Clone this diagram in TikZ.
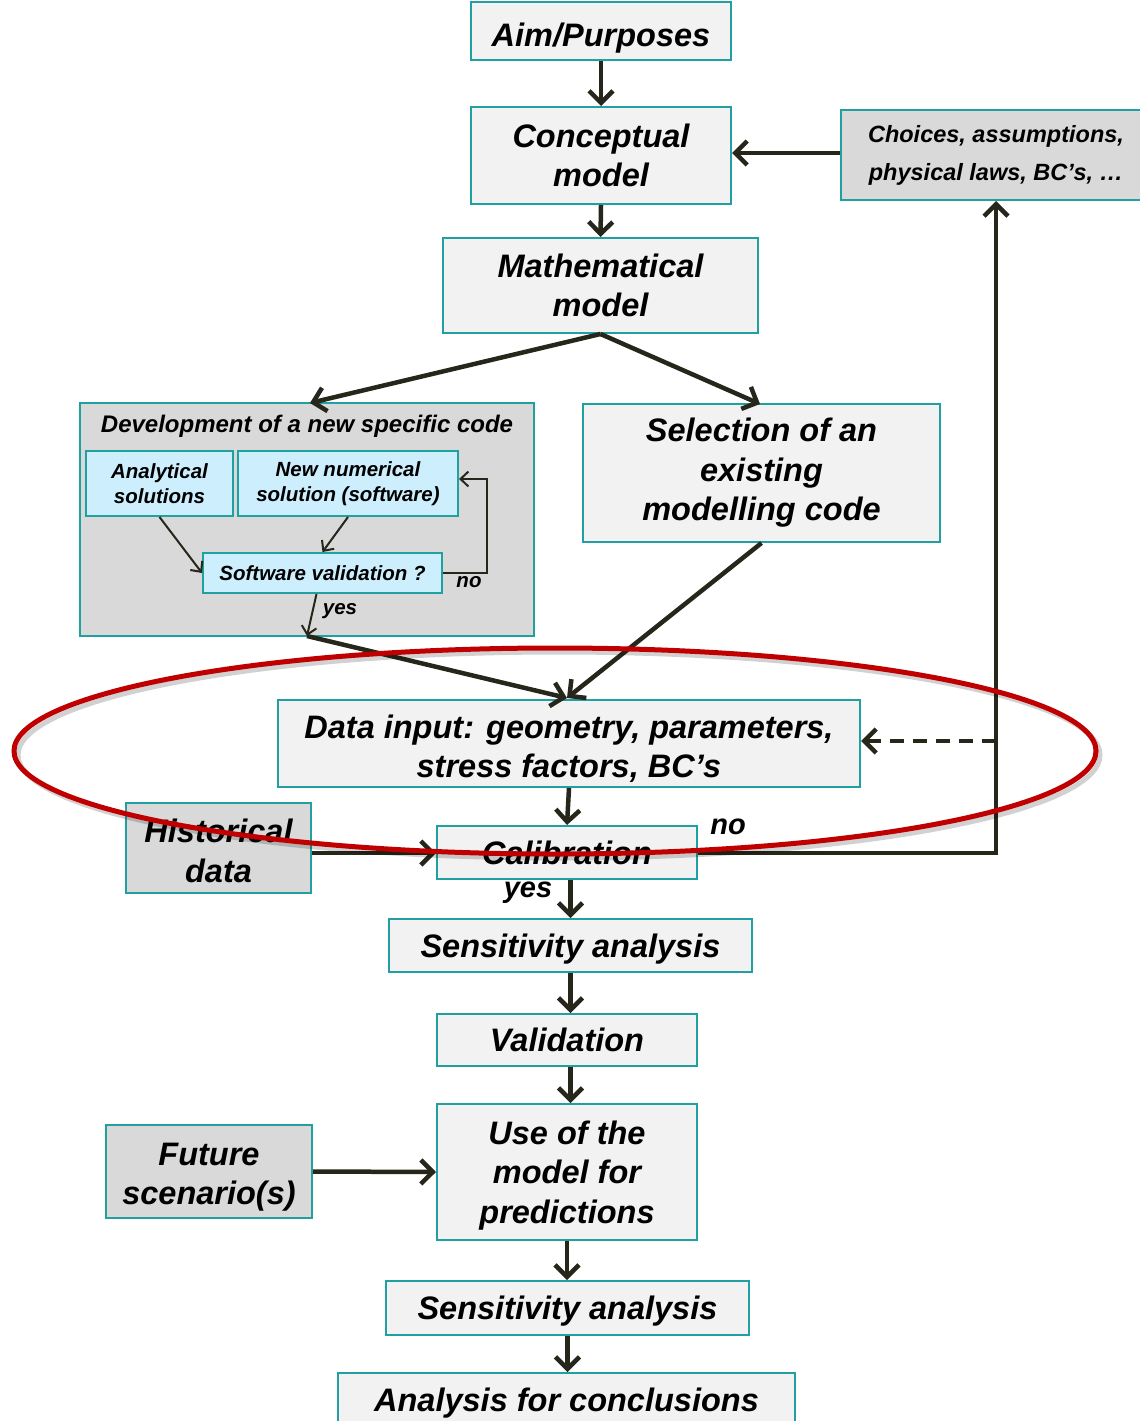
\documentclass[tikz,border=0pt]{standalone}
\usepackage{fontspec}
\setmainfont{Liberation Sans}
\usetikzlibrary{arrows.meta}
\definecolor{tealb}{RGB}{32,160,160}
\definecolor{boxfill}{RGB}{242,242,242}
\definecolor{grayfill}{RGB}{217,217,217}
\definecolor{cyanfill}{RGB}{204,238,253}
\definecolor{arrc}{RGB}{38,38,26}
\definecolor{redc}{RGB}{192,0,0}
\newcommand{\fbig}{\fontsize{32.5}{39.5}\selectfont\bfseries\itshape}
\newcommand{\fmed}{\fontsize{23.5}{38}\selectfont\bfseries\itshape}
\newcommand{\fdev}{\fontsize{24}{28}\selectfont\bfseries\itshape}
\newcommand{\fsml}{\fontsize{20.5}{25}\selectfont\bfseries\itshape}
\newcommand{\flab}{\fontsize{29}{34}\selectfont\bfseries\itshape}
\newcommand{\lowr}[1]{\rule{0pt}{#1}}
\begin{document}
\begin{tikzpicture}[x=1pt,y=-1pt,
  box/.style={draw=tealb,line width=2pt,fill=boxfill,align=center,inner sep=0pt,font=\fbig},
  gbox/.style={box,fill=grayfill},
  cbox/.style={box,fill=cyanfill,font=\fsml},
  one/.style={text height=31.4pt,text depth=8pt},
  arr/.style={draw=arrc,line width=4.5pt,-{Straight Barb[length=12pt,width=24pt]}},
  tarr/.style={draw=arrc,line width=2pt,-{Straight Barb[length=8pt,width=15pt]}},
  lab/.style={inner sep=0pt,font=\flab},
  slab/.style={inner sep=0pt,font=\fsml}]
\useasboundingbox (0,0) rectangle (1140,1421);

% main column
\node[box,text height=39.4pt,text depth=8pt,minimum width=260pt,minimum height=58pt] (aim) at (601,31) {Aim/Purposes};
\node[box,minimum width=260pt,minimum height=97pt] (conc) at (601,155.5) {Conceptual\\model};
\node[box,minimum width=315pt,minimum height=95pt] (math) at (600.5,285.5) {Mathematical\\model};
\node[gbox,font=\fmed,minimum width=310pt,minimum height=90pt] (choices) at (996,155) {Choices, assumptions,\\physical laws, BC’s, \ldots};

% development block
\node[gbox,minimum width=454pt,minimum height=233pt] (dev) at (307,519.5) {};
\node[inner sep=0pt,font=\fdev] (devt) at (307,426) {Development of a new specific code};
\node[cbox,minimum width=147pt,minimum height=65pt] (ana) at (159.5,483.5) {Analytical\\solutions};
\node[cbox,minimum width=220pt,minimum height=65pt] (num) at (348,483.5) {New numerical\\solution (software)};
\node[cbox,text height=19.8pt,text depth=5pt,minimum width=239pt,minimum height=40pt] (sv) at (322.5,573) {Software validation ?};

\node[box,minimum width=357pt,minimum height=138pt] (sel) at (761.5,473) {Selection of an\\existing\\modelling code};

\node[box,minimum width=582pt,minimum height=87pt] (data) at (569,743.5) {\lowr{34pt}Data input: geometry, parameters,\\stress factors, BC’s};
\node[gbox,minimum width=185pt,minimum height=90pt] (hist) at (218.5,848) {\lowr{29pt}Historical\\data};
\node[box,one,minimum width=260pt,minimum height=53pt] (cal) at (567,852.5) {Calibration};
\node[box,one,minimum width=363pt,minimum height=53pt] (sens1) at (570.5,945.5) {Sensitivity analysis};
\node[box,one,minimum width=260pt,minimum height=52pt] (val) at (567,1040) {Validation};
\node[box,minimum width=260pt,minimum height=136pt] (use) at (567,1172) {\lowr{30pt}Use of the\\model for\\predictions};
\node[gbox,minimum width=206pt,minimum height=93pt] (fut) at (209,1171.5) {\lowr{34pt}Future\\scenario(s)};
\node[box,one,minimum width=363pt,minimum height=54pt] (sens2) at (567.5,1308) {Sensitivity analysis};
\node[box,one,minimum width=457pt,minimum height=54pt] (anal) at (566.5,1400) {Analysis for conclusions};

% labels
\node[slab] (no1) at (469,582) {no};
\node[slab] (yes1) at (340,611) {yes};
\node[lab] (no2) at (728,827) {no};
\node[lab] (yes2) at (528,893) {yes};

% coordinates
\coordinate (devin) at (310,403);
\coordinate (selin) at (760,404);
\coordinate (yj) at (307,636);
\coordinate (datain) at (567,698);
\coordinate (rj) at (996,853);
\coordinate (dj) at (996,741);
\coordinate (loopc) at (487,573);

% arrows
\draw[arr] (aim.south) -- (conc.north);
\draw[arr] (conc.south) -- (math.north);
\draw[arr] (choices.west |- 0,153) -- (conc.east |- 0,153);
\draw[arr] (math.south) -- (devin);
\draw[arr] (math.south) -- (selin);
\draw[tarr] (ana.south) -- (sv.west);
\draw[tarr] (num.south) -- (sv.north);
\draw[tarr] (sv.east) -- (loopc) |- (num.east |- 0,479);
\draw[tarr] ([xshift=-6pt]sv.south) -- (yj);
\draw[arr] (yj) -- (datain);
\draw[arr] (sel.south) -- (datain);
\draw[arr] (data.south) -- (cal.north);
\draw[arr] (hist.east |- 0,853) -- (cal.west |- 0,853);
\draw[arr] (cal.east |- rj) -- (rj) -- (rj |- choices.south);
\draw[arr,dash pattern=on 14pt off 9pt] (dj) -- (data.east |- dj);
\draw[arr] (sens1.north |- cal.south) -- (sens1.north);
\draw[arr] (sens1.south) -- (sens1.south |- val.north);
\draw[arr] (sens1.south |- val.south) -- (sens1.south |- use.north);
\draw[arr] (use.south) -- (use.south |- sens2.north);
\draw[arr] (fut.east) -- (use.west);
\draw[arr] (sens2.south) -- (sens2.south |- anal.north);

% red ellipse
\draw[line width=5pt,black,opacity=0.18] (559,755) ellipse [x radius=541pt,y radius=103pt];
\draw[line width=5pt,redc] (555,751) ellipse [x radius=541pt,y radius=103pt];
\end{tikzpicture}
\end{document}
